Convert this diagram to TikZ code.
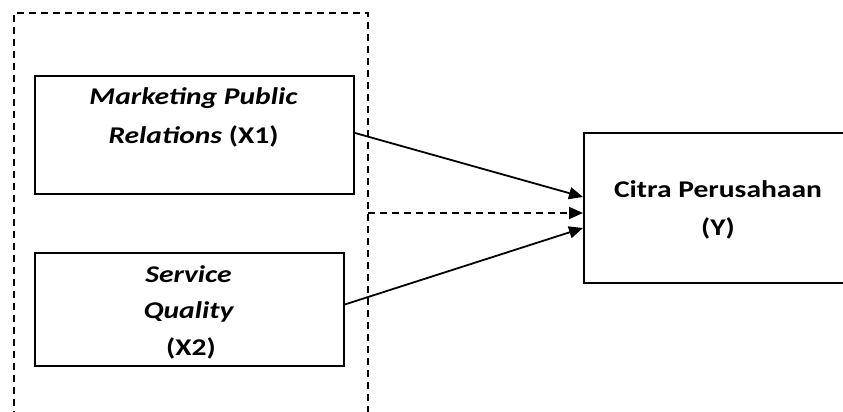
\documentclass[tikz,border=0pt]{standalone}
\usepackage{fontspec}
\setmainfont{Carlito}[FakeStretch=1.23]
\usetikzlibrary{arrows.meta}
\tikzset{
  varbox/.style={draw, line width=1.9pt, minimum width=#1, anchor=north west, inner sep=0pt},
  lbl/.style={anchor=base, font=\fontsize{24}{28}\selectfont\bfseries, inner sep=0pt},
  link/.style={line width=1.8pt, -{Triangle[length=14pt,width=12pt]}},
  grouping/.style={line width=1.4pt, dash pattern=on 7pt off 5pt}
}
\begin{document}
\begin{tikzpicture}[x=1pt,y=1pt]
\useasboundingbox (0,0) rectangle (843,-412);
% independent variables, grouped by a dashed frame
\draw[grouping] (14,-430) |- (368,-13) -- (368,-430);
\coordinate (grp) at (368,-213);
\node[varbox=319pt, minimum height=118pt] (x1) at (34,-75) {};
\node[varbox=309pt, minimum height=113pt] (x2) at (34,-252) {};
% dependent variable
\node[varbox=280pt, minimum height=150pt] (y) at (583,-132) {};
% labels
\node[lbl] (x1a) at (193.5,-104) {\itshape Marketing Public};
\node[lbl] (x1b) at (193.5,-143) {\textit{Relations} (X1)};
\node[lbl] (x2a) at (188.5,-282) {\itshape Service};
\node[lbl] (x2b) at (188.5,-318) {\itshape Quality};
\node[lbl] (x2c) at (191,-355) {(X2)};
\node[lbl] (ya) at (718,-197) {Citra Perusahaan};
\node[lbl] (yb) at (718,-235) {(Y)};
% paths
\draw[link] ([yshift=2pt]x1.east) -- ([yshift=-65pt]y.north west);
\draw[link, dash pattern=on 7pt off 5pt] (grp) -- ([yshift=-81pt]y.north west);
\draw[link] ([yshift=5pt]x2.east) -- ([yshift=-96pt]y.north west);
\end{tikzpicture}
\end{document}
